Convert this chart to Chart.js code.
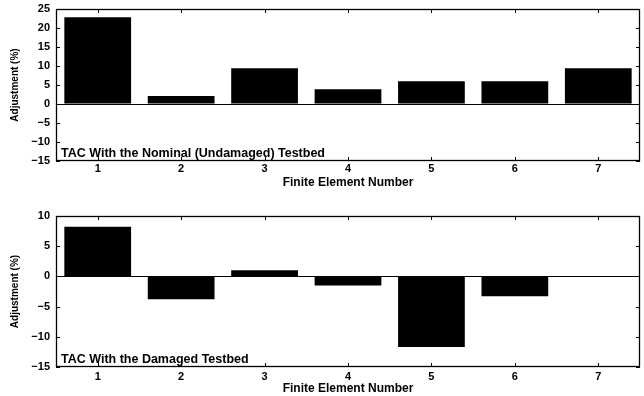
<!DOCTYPE html>
<html>
<head>
<meta charset="utf-8">
<script src="https://cdn.jsdelivr.net/npm/chart.js@4/dist/chart.umd.min.js"></script>
<style>
  html, body { margin: 0; padding: 0; background: #fff; }
  .panel { position: absolute; left: 0; width: 644px; }
  #p1 { top: 0; height: 198px; }
  #p2 { top: 198px; height: 198px; }
</style>
</head>
<body>
<div class="panel" id="p1"><canvas id="c1"></canvas></div>
<div class="panel" id="p2"><canvas id="c2"></canvas></div>
<script>
// Finite element adjustments from the two tuning runs
const elements = ['1', '2', '3', '4', '5', '6', '7'];
const nominalAdjust = [22.8, 2.1, 9.4, 3.9, 6.0, 6.0, 9.4];
const damagedAdjust = [8.2, -3.8, 1.0, -1.5, -11.7, -3.3, 0];
const nominalTicks = [25, 20, 15, 10, 5, 0, -5, -10, -15];
const damagedTicks = [10, 5, 0, -5, -10, -15];
const nominalNote = 'TAC With the Nominal (Undamaged) Testbed';
const damagedNote = 'TAC With the Damaged Testbed';

const FONT = '"Liberation Sans", Arial, Helvetica, sans-serif';
Chart.defaults.font.family = FONT;
Chart.defaults.color = '#000';

// Boxed axes with inward tick marks on all four sides, plus the run label
const framePlugin = {
  id: 'frame',
  afterDatasetsDraw(chart, args, opts) {
    const { ctx, chartArea: a, scales: { x, y } } = chart;
    const L = 4;
    ctx.save();
    ctx.strokeStyle = '#000';
    ctx.lineWidth = 1.3;
    ctx.strokeRect(a.left + 0.5, a.top + 0.5, a.right - a.left - 1, a.bottom - a.top - 1);
    ctx.lineWidth = 1;
    ctx.beginPath();
    x.ticks.forEach((t, i) => {
      const px = Math.round(x.getPixelForTick(i)) + 0.5;
      ctx.moveTo(px, a.bottom); ctx.lineTo(px, a.bottom - L);
      ctx.moveTo(px, a.top); ctx.lineTo(px, a.top + L);
    });
    y.ticks.forEach((t, i) => {
      const py = Math.round(y.getPixelForTick(i)) + 0.5;
      ctx.moveTo(a.left, py); ctx.lineTo(a.left + L, py);
      ctx.moveTo(a.right, py); ctx.lineTo(a.right - L, py);
    });
    ctx.stroke();
    ctx.fillStyle = '#000';
    ctx.font = 'bold 12.5px ' + FONT;
    ctx.textAlign = 'left';
    ctx.textBaseline = 'alphabetic';
    ctx.fillText(opts.note, a.left + 5, a.bottom - 4);
    ctx.restore();
  }
};

function makePanel(canvasId, values, ticks, note, padTop, xAxisHeight, tickPad, titlePadBottom) {
  const yMin = Math.min(...ticks), yMax = Math.max(...ticks);
  return new Chart(document.getElementById(canvasId), {
    type: 'bar',
    data: {
      labels: elements,
      datasets: [{
        data: values,
        backgroundColor: '#000',
        borderWidth: 0,
        categoryPercentage: 0.8,
        barPercentage: 1.0
      }]
    },
    options: {
      responsive: true,
      maintainAspectRatio: false,
      animation: false,
      devicePixelRatio: 1,
      layout: { padding: { top: padTop, right: 4, left: 0, bottom: 0 } },
      plugins: {
        legend: { display: false },
        tooltip: { enabled: false },
        frame: { note: note }
      },
      scales: {
        x: {
          type: 'category',
          offset: true,
          grid: { display: false, drawTicks: false },
          border: { display: false },
          ticks: { padding: tickPad, font: { size: 11, weight: 'bold' }, maxRotation: 0 },
          title: {
            display: true,
            text: 'Finite Element Number',
            font: { size: 12, weight: 'bold' },
            padding: { top: 0, bottom: titlePadBottom }
          },
          afterFit(scale) { scale.height = xAxisHeight; }
        },
        y: {
          min: yMin,
          max: yMax,
          afterBuildTicks(scale) { scale.ticks = ticks.map(v => ({ value: v })); },
          grid: {
            drawTicks: false,
            color: c => (c.tick && c.tick.value === 0 ? '#000' : 'rgba(0,0,0,0)'),
            lineWidth: 1
          },
          border: { display: false },
          ticks: {
            padding: 6,
            font: { size: 11, weight: 'bold' },
            callback: v => String(v).replace('-', '\u2212')
          },
          title: {
            display: true,
            text: 'Adjustment (%)',
            font: { size: 10, weight: 'bold' },
            padding: { top: 9, bottom: 0 }
          },
          afterFit(scale) {
            scale.width = 56;
            scale.paddingTop = 0;
            scale.paddingBottom = 0;
          }
        }
      }
    },
    plugins: [framePlugin]
  });
}

makePanel('c1', nominalAdjust, nominalTicks, nominalNote, 9, 37, 1, 8);
makePanel('c2', damagedAdjust, damagedTicks, damagedNote, 18, 29, 3, 0);
</script>
</body>
</html>
